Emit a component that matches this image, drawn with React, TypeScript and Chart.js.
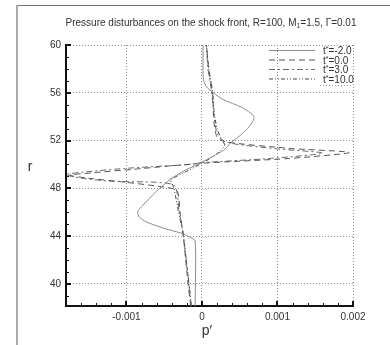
import React, { useEffect, useRef } from 'react';
import { Chart, registerables } from 'chart.js';

Chart.register(...registerables);

const FONT = '"Liberation Sans", Arial, sans-serif';

const seriesLabels = ['-2.0', '0.0', '3.0', '10.0'];

// t* = -2.0
const rTm2 = [38.15, 43.6, 43.9, 44.2, 44.65, 45.2, 45.6, 46.05, 46.6, 47.7, 48.8, 49.55, 50.1, 50.7, 51.2, 51.8, 52.4, 53.2, 54.0, 54.8, 55.4, 56.0, 56.5, 57.0, 57.6, 60];
const pTm2 = [-0.09e-3, -0.09e-3, -0.16e-3, -0.25e-3, -0.5e-3, -0.74e-3, -0.83e-3, -0.85e-3, -0.78e-3, -0.61e-3, -0.41e-3, -0.21e-3, -0.03e-3, 0.15e-3, 0.29e-3, 0.38e-3, 0.5e-3, 0.63e-3, 0.69e-3, 0.52e-3, 0.29e-3, 0.15e-3, 0.06e-3, 0.025e-3, 0.015e-3, 0.015e-3];

// t* = 0.0
const rT0 = [38.15, 41, 44.2, 46, 47.8, 48.1, 48.5, 48.85, 49.1, 49.3, 49.6, 50.1, 50.5, 51.0, 51.35, 51.9, 52.3, 53.5, 56.0, 58.0, 60];
const pT0 = [-0.15e-3, -0.2e-3, -0.25e-3, -0.29e-3, -0.33e-3, -0.5e-3, -1.0e-3, -1.5e-3, -1.75e-3, -1.45e-3, -0.9e-3, 0, 1.15e-3, 1.95e-3, 1.15e-3, 0.3e-3, 0.2e-3, 0.16e-3, 0.14e-3, 0.09e-3, 0.06e-3];

// t* = 3.0
const rT3 = [38.15, 41, 44.2, 46, 48.2, 48.5, 48.6, 48.85, 49.15, 49.4, 49.7, 50.0, 50.15, 50.5, 50.95, 51.3, 51.7, 52.0, 52.6, 54.0, 56.0, 58.0, 60];
const pT3 = [-0.14e-3, -0.19e-3, -0.25e-3, -0.3e-3, -0.36e-3, -0.6e-3, -1.2e-3, -1.6e-3, -1.8e-3, -1.5e-3, -0.95e-3, -0.16e-3, 0, 0.9e-3, 1.6e-3, 1.0e-3, 0.45e-3, 0.28e-3, 0.2e-3, 0.16e-3, 0.13e-3, 0.08e-3, 0.06e-3];

// t* = 10.0
const rT10 = [38.15, 41, 44.2, 46, 48.0, 48.7, 49.3, 50.1, 50.9, 51.6, 52.1, 53.0, 54.5, 56.1, 58.0, 60];
const pT10 = [-0.14e-3, -0.19e-3, -0.25e-3, -0.31e-3, -0.37e-3, -0.41e-3, -0.24e-3, 0, 0.2e-3, 0.3e-3, 0.26e-3, 0.2e-3, 0.16e-3, 0.14e-3, 0.09e-3, 0.06e-3];

const xTicks = [-0.001, 0, 0.001, 0.002];
const xTickLabels = ['-0.001', '0', '0.001', '0.002'];
const xMinorTicks = [-0.0016, -0.0014, -0.0012, -0.0008, -0.0006, -0.0004, -0.0002, 0.0002, 0.0004, 0.0006, 0.0008, 0.0012, 0.0014, 0.0016, 0.0018];
const yTicks = [40, 44, 48, 52, 56, 60];
const yTickLabels = ['40', '44', '48', '52', '56', '60'];
const yMinorTicks = [39, 41, 42, 43, 45, 46, 47, 49, 50, 51, 53, 54, 55, 57, 58, 59];

const X_MIN = -0.0018;
const X_MAX = 0.002;
const Y_MIN = 38.15;
const Y_MAX = 60;

const colors = ['#8a8a8a', '#555555', '#6a6a6a', '#444444'];
const dashes: number[][] = [[], [6, 4], [6, 3, 2, 3], [4, 2, 1, 2, 1, 2]];

const pairs = (r: number[], p: number[]) => r.map((rv, i) => ({ x: p[i], y: rv }));

function drawRich(ctx: CanvasRenderingContext2D, parts: { t: string; s: number; dy: number }[], x: number, y: number, align: 'left' | 'center') {
  let total = 0;
  parts.forEach((p) => {
    ctx.font = `${p.s}px ${FONT}`;
    total += ctx.measureText(p.t).width;
  });
  let cx = align === 'center' ? x - total / 2 : x;
  ctx.textAlign = 'left';
  ctx.textBaseline = 'alphabetic';
  parts.forEach((p) => {
    ctx.font = `${p.s}px ${FONT}`;
    ctx.fillText(p.t, cx, y + p.dy);
    cx += ctx.measureText(p.t).width;
  });
}

const decorPlugin = {
  id: 'decor',
  afterDraw(chart: any) {
    const ctx: CanvasRenderingContext2D = chart.ctx;
    const xs = chart.scales.x;
    const ys = chart.scales.y;
    const { left, bottom } = chart.chartArea;
    ctx.save();
    // outer frame
    ctx.strokeStyle = '#6e6e6e';
    ctx.lineWidth = 1;
    ctx.beginPath();
    ctx.moveTo(17, 5.5);
    ctx.lineTo(390, 5.5);
    ctx.stroke();
    ctx.strokeStyle = '#aaaaaa';
    ctx.lineWidth = 2;
    ctx.beginPath();
    ctx.moveTo(17, 5);
    ctx.lineTo(17, 345);
    ctx.stroke();

    // inward ticks
    ctx.strokeStyle = '#111';
    const tick = (x1: number, y1: number, x2: number, y2: number, w: number) => {
      ctx.lineWidth = w;
      ctx.beginPath();
      ctx.moveTo(x1, y1);
      ctx.lineTo(x2, y2);
      ctx.stroke();
    };
    xTicks.forEach((v) => {
      const px = Math.round(xs.getPixelForValue(v));
      tick(px, bottom, px, bottom - 5, 2);
    });
    xMinorTicks.forEach((v) => {
      const px = Math.round(xs.getPixelForValue(v)) + 0.5;
      tick(px, bottom, px, bottom - 3, 1);
    });
    yTicks.forEach((v) => {
      const py = Math.round(ys.getPixelForValue(v));
      tick(left, py, left + 5, py, 2);
    });
    yMinorTicks.forEach((v) => {
      const py = Math.round(ys.getPixelForValue(v)) + 0.5;
      tick(left, py, left + 3, py, 1);
    });

    // title
    ctx.fillStyle = '#333';
    drawRich(ctx, [
      { t: 'Pressure disturbances on the shock front, R=100, M', s: 10, dy: 0 },
      { t: '1', s: 7, dy: 2 },
      { t: '=1.5, \u0393=0.01', s: 10, dy: 0 },
    ], 211, 26, 'center');

    // axis titles
    ctx.fillStyle = '#333';
    ctx.font = `14px ${FONT}`;
    ctx.textAlign = 'center';
    ctx.textBaseline = 'alphabetic';
    ctx.fillText('p\u2032', 207, 335);
    ctx.fillText('r', 30, 171);

    // legend
    const rows = [50, 59.5, 69, 78.5];
    rows.forEach((ry, i) => {
      ctx.strokeStyle = colors[i];
      ctx.lineWidth = 1;
      ctx.setLineDash(dashes[i]);
      ctx.beginPath();
      ctx.moveTo(269, ry + 0.5);
      ctx.lineTo(315, ry + 0.5);
      ctx.stroke();
      ctx.setLineDash([]);
      ctx.fillStyle = '#333';
      drawRich(ctx, [
        { t: 't', s: 10, dy: 0 },
        { t: '*', s: 7, dy: -3 },
        { t: '=' + seriesLabels[i], s: 10, dy: 0 },
      ], 323, ry + 4, 'left');
    });
    ctx.strokeStyle = '#999';
    ctx.lineWidth = 1;
    ctx.setLineDash([1, 2]);
    ctx.beginPath();
    ctx.moveTo(320, 85.5);
    ctx.lineTo(353, 85.5);
    ctx.stroke();
    ctx.setLineDash([]);
    ctx.restore();
  },
};

export default function App() {
  const ref = useRef<HTMLCanvasElement>(null);
  useEffect(() => {
    const series = [
      pairs(rTm2, pTm2),
      pairs(rT0, pT0),
      pairs(rT3, pT3),
      pairs(rT10, pT10),
    ];
    const chart = new Chart(ref.current as HTMLCanvasElement, {
      type: 'scatter',
      data: {
        datasets: series.map((d, i) => ({
          label: 't*=' + seriesLabels[i],
          data: d,
          showLine: true,
          borderColor: colors[i],
          backgroundColor: colors[i],
          borderWidth: 1,
          borderDash: dashes[i],
          pointRadius: 0,
          tension: 0.25,
        })),
      },
      options: {
        animation: false,
        responsive: false,
        devicePixelRatio: 1,
        layout: { padding: { left: 0, top: 45, right: 37, bottom: 0 } },
        plugins: { legend: { display: false }, title: { display: false }, tooltip: { enabled: false } },
        scales: {
          x: {
            type: 'linear',
            min: X_MIN,
            max: X_MAX,
            afterBuildTicks: (scale: any) => {
              scale.ticks = xTicks.map((v) => ({ value: v }));
            },
            afterFit: (scale: any) => {
              scale.height = 39;
            },
            ticks: {
              autoSkip: false,
              maxRotation: 0,
              padding: 5,
              color: '#333',
              font: { family: FONT, size: 10 },
              callback: (v: any) => xTickLabels[xTicks.indexOf(Number(v))] ?? '',
            },
            grid: { color: '#8c8c8c', lineWidth: 1, drawTicks: false },
            border: { display: true, color: '#111', width: 2, dash: [1, 2] },
          },
          y: {
            type: 'linear',
            min: Y_MIN,
            max: Y_MAX,
            afterBuildTicks: (scale: any) => {
              scale.ticks = yTicks.map((v) => ({ value: v }));
            },
            afterFit: (scale: any) => {
              scale.width = 66;
            },
            ticks: {
              autoSkip: false,
              padding: 5,
              color: '#333',
              font: { family: FONT, size: 10 },
              callback: (v: any) => yTickLabels[yTicks.indexOf(Number(v))] ?? '',
            },
            grid: { color: '#8c8c8c', lineWidth: 1, drawTicks: false },
            border: { display: true, color: '#111', width: 2, dash: [1, 2] },
          },
        },
      },
      plugins: [decorPlugin],
    });
    return () => chart.destroy();
  }, []);
  return (
    <div style={{ position: 'absolute', left: 0, top: 0, width: 390, height: 345, background: '#fff' }}>
      <canvas ref={ref} width={390} height={345} style={{ display: 'block', width: 390, height: 345 }} />
    </div>
  );
}
